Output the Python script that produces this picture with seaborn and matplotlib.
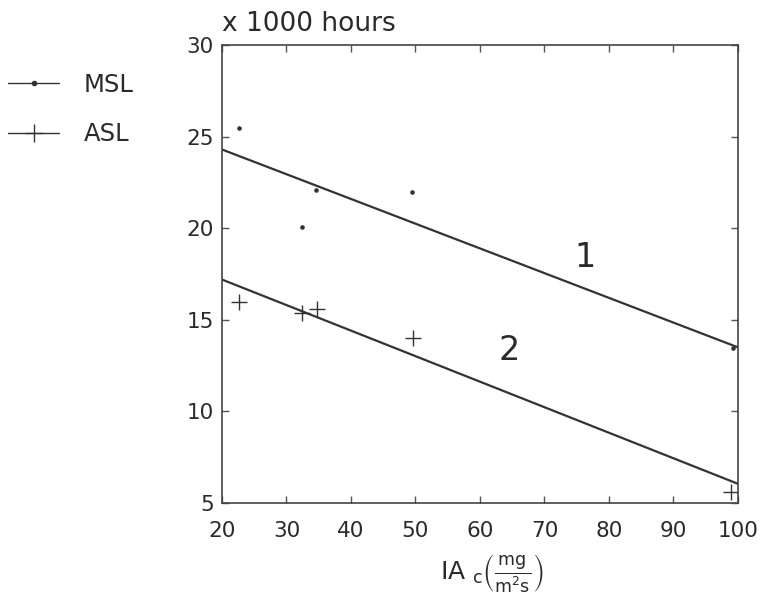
import matplotlib
matplotlib.use('Agg')
import matplotlib.pyplot as plt
from matplotlib.lines import Line2D
import seaborn as sns
import pandas as pd

# measured points
msl_x = [22.6, 32.4, 34.6, 49.5, 99.2]
msl_y = [25.45, 20.05, 22.1, 22.0, 13.45]
asl_x = [22.6, 32.4, 34.7, 49.6, 98.9]
asl_y = [16.0, 15.4, 15.6, 14.0, 5.6]

# fitted lines (ends at x = 20 and 100)
fit_x = [20, 100]
fit1_y = [24.3, 13.5]
fit2_y = [17.2, 6.05]

x_ticks = [20, 30, 40, 50, 60, 70, 80, 90, 100]
y_ticks = [5, 10, 15, 20, 25, 30]

sns.set_style('ticks')
plt.rcParams['font.family'] = ['DejaVu Sans']
plt.rcParams['mathtext.fontset'] = 'dejavusans'

ink = '#333333'
text_col = '#2a2a2a'

fig = plt.figure(figsize=(7.61, 6.01), dpi=100)
ax = fig.add_axes([0.2917, 0.163, 0.678, 0.762])

fits = pd.DataFrame({'x': fit_x * 2, 'y': fit1_y + fit2_y,
                     'fit': ['1'] * 2 + ['2'] * 2})
sns.lineplot(data=fits, x='x', y='y', units='fit', estimator=None,
             color=ink, linewidth=1.6, ax=ax, legend=False)

sns.scatterplot(x=msl_x, y=msl_y, marker='o', s=11, color=ink,
                edgecolor=ink, linewidth=0, ax=ax)
sns.scatterplot(x=asl_x, y=asl_y, marker='+', s=140, color=ink,
                linewidth=1.0, ax=ax)

ax.text(76.3, 18.4, '1', fontsize=24, color=text_col, ha='center', va='center')
ax.text(64.6, 13.35, '2', fontsize=24, color=text_col, ha='center', va='center')

ax.set_xlim(20, 100)
ax.set_ylim(5, 30)
ax.set_xticks(x_ticks)
ax.set_yticks(y_ticks)
ax.tick_params(direction='in', length=5, width=1, color='#555555',
               top=True, right=True, labelsize=15.5, labelcolor=text_col)
ax.tick_params(axis='x', pad=13)
ax.tick_params(axis='y', pad=6)
for sp in ax.spines.values():
    sp.set_color('#444444')
    sp.set_linewidth(1.2)

ax.set_xlabel(r'IA $_{\rm c}\left(\frac{\rm mg}{\rm m^2 s}\right)$',
              fontsize=18, color=text_col)
ax.xaxis.set_label_coords(0.523, -0.108)
ax.set_ylabel('')
ax.text(0.0, 1.017, 'x 1000 hours', transform=ax.transAxes, fontsize=19,
        color=text_col, ha='left', va='bottom')

handles = [Line2D([], [], color=ink, lw=1, marker='o', markersize=3),
           Line2D([], [], color=ink, lw=1, marker='+', markersize=13)]
fig.legend(handles, ['MSL', 'ASL'], loc='upper left',
           bbox_to_anchor=(0.0105, 0.879), frameon=False, fontsize=17.5,
           borderpad=0, borderaxespad=0,
           handlelength=2.1, handletextpad=1.0, labelspacing=1.05,
           labelcolor=text_col)

fig.savefig('out.png', dpi=100)
